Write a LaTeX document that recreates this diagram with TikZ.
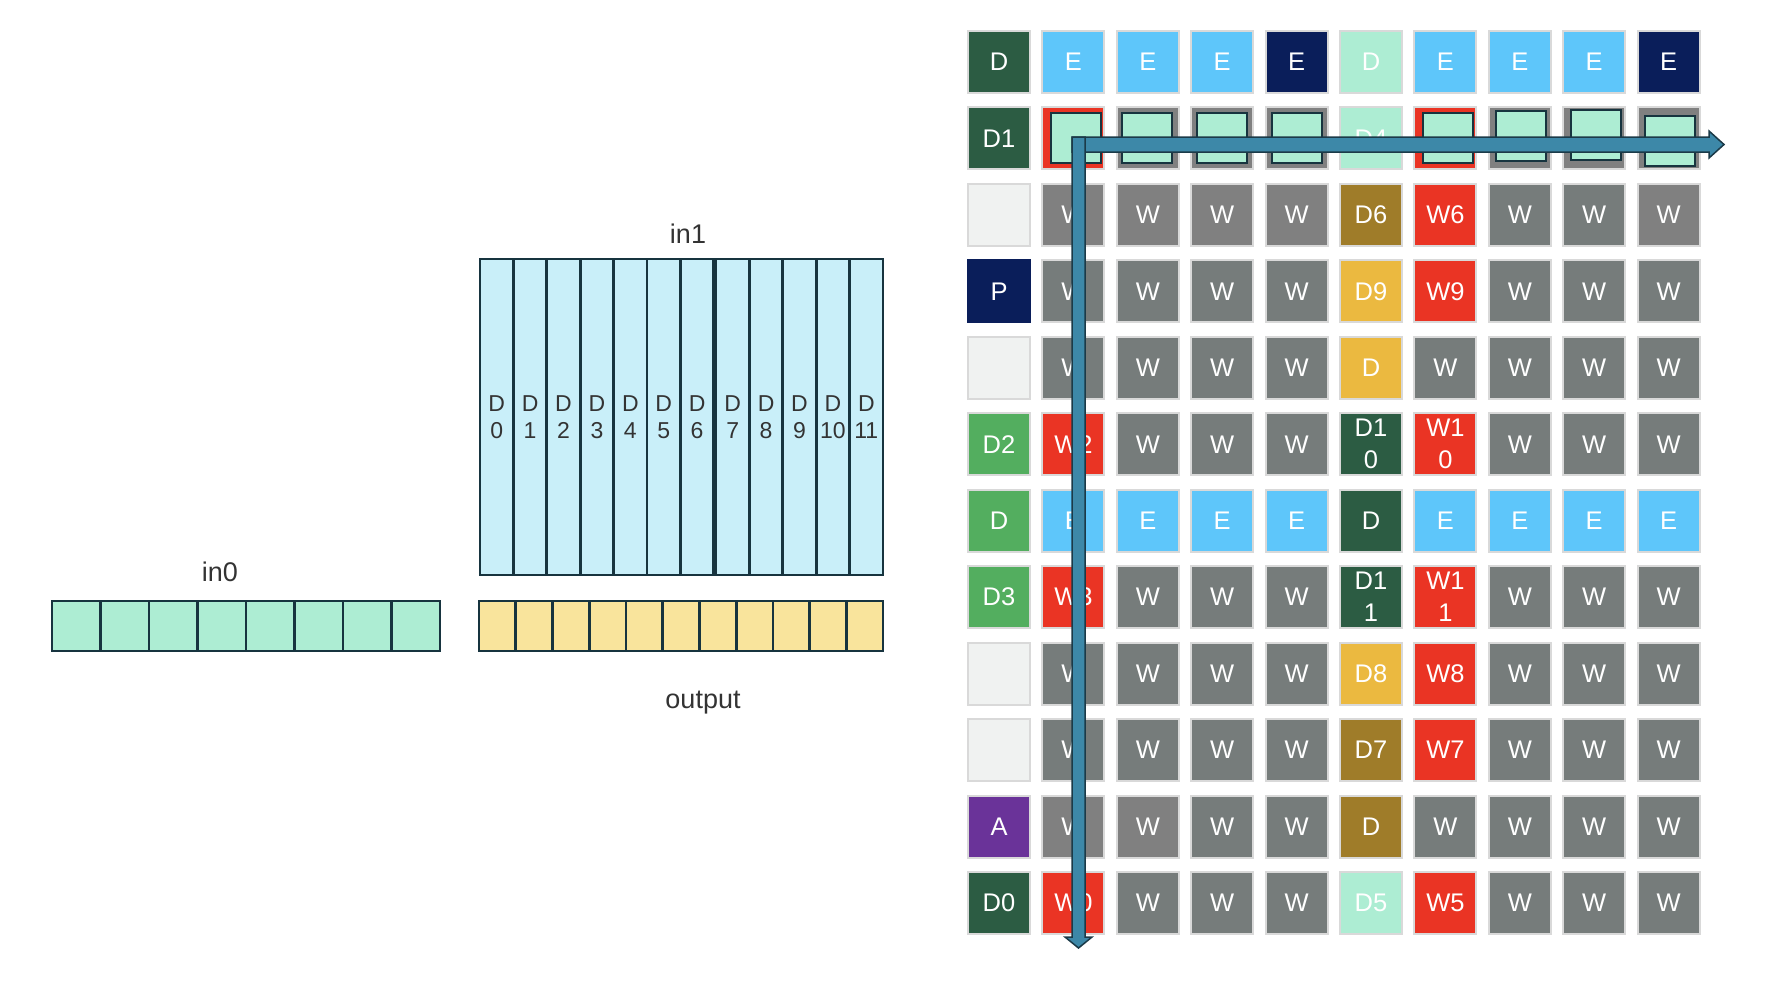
\documentclass[tikz,border=0pt]{standalone}
\usepackage{fontspec}
\setmainfont{Liberation Sans}

% Farben
\definecolor{dkgreen}{HTML}{2C5C43}
\definecolor{sky}{HTML}{5EC6FA}
\definecolor{navy}{HTML}{0A1E5A}
\definecolor{mint}{HTML}{ADEDD3}
\definecolor{red}{HTML}{EA3424}
\definecolor{wgray}{HTML}{767C7B}
\definecolor{ngray}{HTML}{808080}
\definecolor{pale}{HTML}{F0F2F1}
\definecolor{olive}{HTML}{9F7C29}
\definecolor{gold}{HTML}{EBB940}
\definecolor{green}{HTML}{53AE5F}
\definecolor{purple}{HTML}{6A3399}
\definecolor{cellline}{HTML}{D9D9D9}
\definecolor{slotline}{HTML}{17343F}
\definecolor{cyan}{HTML}{C9EFF9}
\definecolor{butter}{HTML}{F9E49C}
\definecolor{flowblue}{HTML}{3D88A8}
\definecolor{flowline}{HTML}{1B3A48}
\definecolor{labelgray}{HTML}{333333}

\tikzset{
  cell/.style={draw=cellline, line width=2pt, fill=#1, text=white, minimum size=62pt,
    inner sep=0pt, align=center, font=\fontsize{25.5}{32}\selectfont},
  slot/.style={draw=slotline, line width=2.7pt, fill=#1, inner sep=0pt},
  subbox/.style={draw=slotline, line width=2pt, fill=mint, minimum size=50pt, inner sep=0pt},
  fatarrow/.style={fill=flowblue, draw=flowline, line width=1.5pt, line join=miter},
  bufname/.style={text=labelgray, font=\fontsize{27}{32}\selectfont}
}

\begin{document}
\begin{tikzpicture}[x=1pt, y=-1pt]
  \useasboundingbox (0,0) rectangle (1784,986);

  % Puffer in0
  \foreach \i in {0,...,7}
    \node[slot=mint, minimum width=48.5pt, minimum height=50pt] (a\i) at ({76.25+48.5*\i},626) {};
  \node[bufname] (in0) at (220,572) {in0};

  % Puffer in1
  \foreach \i in {0,...,6}
    \node[slot=cyan, minimum width=33.4pt, minimum height=316pt, align=center,
      text=labelgray, font=\fontsize{23}{27}\selectfont] (d\i) at ({496.7+33.4*\i},417) {D\\\i};
  \foreach \i in {7,...,11}
    \node[slot=cyan, minimum width=33.4pt, minimum height=316pt, align=center,
      text=labelgray, font=\fontsize{23}{27}\selectfont] (d\i) at ({498.9+33.4*\i},417) {D\\\i};
  \node[bufname] (in1) at (688,234) {in1};

  % Puffer output
  \foreach \i in {0,...,10}
    \node[slot=butter, minimum width=36.73pt, minimum height=50pt] (o\i) at ({497.4+36.73*\i},626) {};
  \node[bufname] (out) at (703,703) {output};

  % Gitter, Zeile fuer Zeile
  \foreach \c/\clr/\txt in {0/dkgreen/D,1/sky/E,2/sky/E,3/sky/E,4/navy/E,5/mint/D,6/sky/E,7/sky/E,8/sky/E,9/navy/E}
    \node[cell=\clr] (c0-\c) at ({999+74.4*\c},62) {\txt};
  \foreach \c/\clr/\txt in {0/dkgreen/D1,1/red/,2/ngray/,3/ngray/,4/ngray/,5/mint/D4,6/red/,7/ngray/,8/ngray/,9/ngray/}
    \node[cell=\clr] (c1-\c) at ({999+74.4*\c},138.45) {\txt};
  \foreach \c/\clr/\txt in {0/pale/,1/ngray/W,2/ngray/W,3/ngray/W,4/ngray/W,5/olive/D6,6/red/W6,7/wgray/W,8/wgray/W,9/ngray/W}
    \node[cell=\clr] (c2-\c) at ({999+74.4*\c},214.9) {\txt};
  \node[cell=navy, draw=navy] (c3-0) at (999,291.35) {P};
  \foreach \c/\clr/\txt in {1/wgray/W,2/wgray/W,3/wgray/W,4/wgray/W,5/gold/D9,6/red/W9,7/wgray/W,8/wgray/W,9/wgray/W}
    \node[cell=\clr] (c3-\c) at ({999+74.4*\c},291.35) {\txt};
  \foreach \c/\clr/\txt in {0/pale/,1/wgray/W,2/wgray/W,3/wgray/W,4/wgray/W,5/gold/D,6/wgray/W,7/wgray/W,8/wgray/W,9/wgray/W}
    \node[cell=\clr] (c4-\c) at ({999+74.4*\c},367.8) {\txt};
  \foreach \c/\clr/\txt in {0/green/D2,1/red/W2,2/wgray/W,3/wgray/W,4/wgray/W,5/dkgreen/{D1\\0},6/red/{W1\\0},7/wgray/W,8/wgray/W,9/wgray/W}
    \node[cell=\clr] (c5-\c) at ({999+74.4*\c},444.25) {\txt};
  \foreach \c/\clr/\txt in {0/green/D,1/sky/E,2/sky/E,3/sky/E,4/sky/E,5/dkgreen/D,6/sky/E,7/sky/E,8/sky/E,9/sky/E}
    \node[cell=\clr] (c6-\c) at ({999+74.4*\c},520.7) {\txt};
  \foreach \c/\clr/\txt in {0/green/D3,1/red/W3,2/wgray/W,3/wgray/W,4/wgray/W,5/dkgreen/{D1\\1},6/red/{W1\\1},7/wgray/W,8/wgray/W,9/wgray/W}
    \node[cell=\clr] (c7-\c) at ({999+74.4*\c},597.15) {\txt};
  \foreach \c/\clr/\txt in {0/pale/,1/wgray/W,2/wgray/W,3/wgray/W,4/wgray/W,5/gold/D8,6/red/W8,7/wgray/W,8/wgray/W,9/wgray/W}
    \node[cell=\clr] (c8-\c) at ({999+74.4*\c},673.6) {\txt};
  \foreach \c/\clr/\txt in {0/pale/,1/wgray/W,2/wgray/W,3/wgray/W,4/wgray/W,5/olive/D7,6/red/W7,7/wgray/W,8/wgray/W,9/wgray/W}
    \node[cell=\clr] (c9-\c) at ({999+74.4*\c},750.05) {\txt};
  \foreach \c/\clr/\txt in {0/purple/A,1/ngray/W,2/ngray/W,3/wgray/W,4/wgray/W,5/olive/D,6/wgray/W,7/wgray/W,8/wgray/W,9/wgray/W}
    \node[cell=\clr] (c10-\c) at ({999+74.4*\c},826.5) {\txt};
  \foreach \c/\clr/\txt in {0/dkgreen/D0,1/red/W0,2/wgray/W,3/wgray/W,4/wgray/W,5/mint/D5,6/red/W5,7/wgray/W,8/wgray/W,9/wgray/W}
    \node[cell=\clr] (c11-\c) at ({999+74.4*\c},902.95) {\txt};

  % innere Kaestchen in Zeile 1
  \node[subbox, xshift=3pt] (s1) at (c1-1) {};
  \node[subbox, xshift=-1pt] (s2) at (c1-2) {};
  \node[subbox] (s3) at (c1-3) {};
  \node[subbox] (s4) at (c1-4) {};
  \node[subbox, xshift=3pt] (s6) at (c1-6) {};
  \node[subbox, xshift=1pt, yshift=2pt] (s7) at (c1-7) {};
  \node[subbox, xshift=2pt, yshift=3pt] (s8) at (c1-8) {};
  \node[subbox, xshift=1pt, yshift=-2.5pt] (s9) at (c1-9) {};

  % Pfeile
  \coordinate (turn) at (1072,137);
  \coordinate (eastend) at (1724,144.5);
  \coordinate (southend) at (1078.5,948);
  \filldraw[fatarrow] (turn) -- ++(637,0) -- ++(0,-6) -- (eastend) -- ++(-15,13.5)
    -- ++(0,-6) -- ++(-637,0) -- cycle;
  \filldraw[fatarrow] (turn) -- ++(13,0) -- ++(0,800) -- ++(7,0) -- (southend)
    -- ++(-13.5,-11) -- ++(7,0) -- cycle;
\end{tikzpicture}
\end{document}
